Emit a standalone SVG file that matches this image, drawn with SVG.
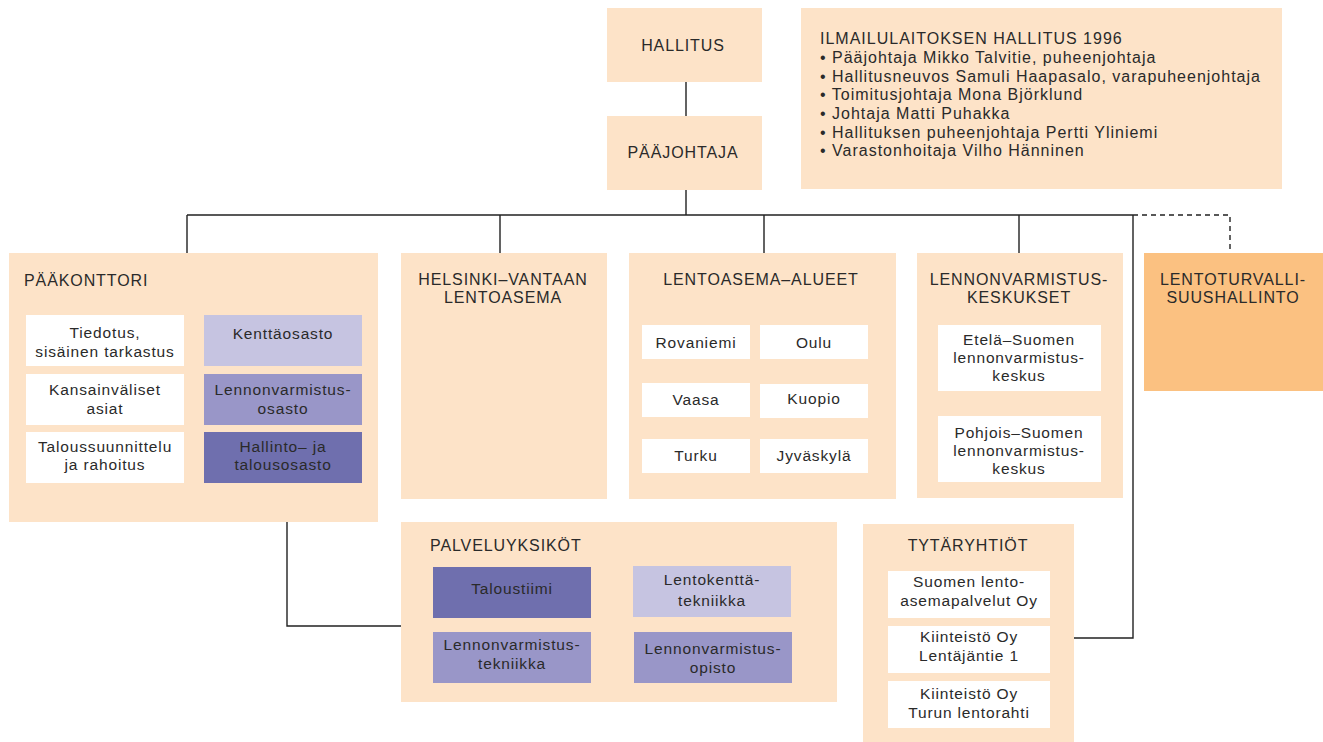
<svg xmlns="http://www.w3.org/2000/svg" width="1323" height="742" viewBox="0 0 1323 742">
<style>
text{font-family:"Liberation Sans",Arial,sans-serif;fill:#2a2a2a;font-size:16px;letter-spacing:1px}
.c{text-anchor:middle}
.t{font-size:16px;letter-spacing:0.9px}
.s{font-size:15.5px;letter-spacing:0.85px}
.peach{fill:#FDE3C8}
.org{fill:#FBC181}
.wh{fill:#FFFFFF}
.l1{fill:#C6C4E1}
.l2{fill:#9996C8}
.l3{fill:#6F6FAE}
.ln{fill:none;stroke:#222;stroke-width:1.4}
.dash{stroke-dasharray:5 4}
</style>
<g id="connectors">
<path class="ln" d="M686 82V116M686 190V215M187 215H1133M187 215V253M500 215V253M764 215V253M1019 215V253M1133 215V638H1074M287 522V626H401"/>
<path class="ln dash" d="M1133 215H1230V253"/>
</g>
<g id="hallitus"><rect class="peach" x="607" y="8" width="155" height="74"/><text class="c t" x="683" y="51">HALLITUS</text></g>
<g id="paajohtaja"><rect class="peach" x="607" y="116" width="155" height="74"/><text class="c t" x="683" y="158">PÄÄJOHTAJA</text></g>
<g id="ilmailulaitoksen-hallitus"><rect class="peach" x="801" y="8" width="481" height="181"/>
<text x="820" y="44">ILMAILULAITOKSEN HALLITUS 1996</text>
<text x="820" y="63">• Pääjohtaja Mikko Talvitie, puheenjohtaja</text>
<text x="820" y="82">• Hallitusneuvos Samuli Haapasalo, varapuheenjohtaja</text>
<text x="820" y="100">• Toimitusjohtaja Mona Björklund</text>
<text x="820" y="119">• Johtaja Matti Puhakka</text>
<text x="820" y="138">• Hallituksen puheenjohtaja Pertti Yliniemi</text>
<text x="820" y="156">• Varastonhoitaja Vilho Hänninen</text>
</g>
<g id="paakonttori"><rect class="peach" x="9" y="253" width="369" height="269"/>
<text class="t" x="24" y="286">PÄÄKONTTORI</text>
<rect class="wh" x="26" y="315" width="158" height="51"/><text class="c s" x="105" y="338">Tiedotus,</text><text class="c s" x="105" y="357">sisäinen tarkastus</text>
<rect class="wh" x="26" y="374" width="158" height="51"/><text class="c s" x="105" y="395">Kansainväliset</text><text class="c s" x="105" y="414">asiat</text>
<rect class="wh" x="26" y="432" width="158" height="51"/><text class="c s" x="105" y="452">Taloussuunnittelu</text><text class="c s" x="105" y="470">ja rahoitus</text>
<rect class="l1" x="204" y="315" width="158" height="51"/><text class="c s" x="283" y="339">Kenttäosasto</text>
<rect class="l2" x="204" y="374" width="158" height="51"/><text class="c s" x="283" y="395">Lennonvarmistus-</text><text class="c s" x="283" y="414">osasto</text>
<rect class="l3" x="204" y="432" width="158" height="51"/><text class="c s" x="283" y="452">Hallinto– ja</text><text class="c s" x="283" y="470">talousosasto</text>
</g>
<g id="helsinki-vantaa"><rect class="peach" x="401" y="253" width="206" height="246"/>
<text class="c t" x="503" y="285">HELSINKI–VANTAAN</text><text class="c t" x="503" y="303">LENTOASEMA</text></g>
<g id="lentoasema-alueet"><rect class="peach" x="629" y="253" width="267" height="246"/>
<text class="c t" x="761" y="285">LENTOASEMA–ALUEET</text>
<rect class="wh" x="642" y="325" width="108" height="34"/><text class="c s" x="696" y="348">Rovaniemi</text>
<rect class="wh" x="760" y="325" width="108" height="34"/><text class="c s" x="814" y="348">Oulu</text>
<rect class="wh" x="642" y="383" width="108" height="34"/><text class="c s" x="696" y="405">Vaasa</text>
<rect class="wh" x="760" y="384" width="108" height="34"/><text class="c s" x="814" y="404">Kuopio</text>
<rect class="wh" x="642" y="439" width="108" height="34"/><text class="c s" x="696" y="461">Turku</text>
<rect class="wh" x="760" y="439" width="108" height="34"/><text class="c s" x="814" y="461">Jyväskylä</text>
</g>
<g id="lennonvarmistuskeskukset"><rect class="peach" x="917" y="253" width="206" height="245"/>
<text class="c t" x="1019" y="285">LENNONVARMISTUS-</text><text class="c t" x="1019" y="303">KESKUKSET</text>
<rect class="wh" x="938" y="325" width="163" height="66"/><text class="c s" x="1019" y="345">Etelä–Suomen</text><text class="c s" x="1019" y="363">lennonvarmistus-</text><text class="c s" x="1019" y="381">keskus</text>
<rect class="wh" x="938" y="416" width="163" height="66"/><text class="c s" x="1019" y="438">Pohjois–Suomen</text><text class="c s" x="1019" y="456">lennonvarmistus-</text><text class="c s" x="1019" y="474">keskus</text>
</g>
<g id="lentoturvallisuushallinto"><rect class="org" x="1144" y="253" width="179" height="138"/>
<text class="c t" x="1233" y="285">LENTOTURVALLI-</text><text class="c t" x="1233" y="303">SUUSHALLINTO</text></g>
<g id="palveluyksikot"><rect class="peach" x="401" y="522" width="436" height="180"/>
<text class="t" x="430" y="551">PALVELUYKSIKÖT</text>
<rect class="l3" x="433" y="567" width="158" height="51"/><text class="c s" x="512" y="594">Taloustiimi</text>
<rect class="l1" x="633" y="566" width="158" height="51"/><text class="c s" x="712" y="585">Lentokenttä-</text><text class="c s" x="712" y="606">tekniikka</text>
<rect class="l2" x="433" y="632" width="158" height="51"/><text class="c s" x="512" y="650">Lennonvarmistus-</text><text class="c s" x="512" y="669">tekniikka</text>
<rect class="l2" x="634" y="632" width="158" height="51"/><text class="c s" x="713" y="654">Lennonvarmistus-</text><text class="c s" x="713" y="673">opisto</text>
</g>
<g id="tytaryhtiot"><rect class="peach" x="863" y="524" width="211" height="218"/>
<text class="c t" x="968" y="551">TYTÄRYHTIÖT</text>
<rect class="wh" x="888" y="571" width="162" height="47"/><text class="c s" x="969" y="587">Suomen lento-</text><text class="c s" x="969" y="606">asemapalvelut Oy</text>
<rect class="wh" x="888" y="626" width="162" height="47"/><text class="c s" x="969" y="642">Kiinteistö Oy</text><text class="c s" x="969" y="661">Lentäjäntie 1</text>
<rect class="wh" x="888" y="681" width="162" height="47"/><text class="c s" x="969" y="699">Kiinteistö Oy</text><text class="c s" x="969" y="718">Turun lentorahti</text>
</g>
</svg>
